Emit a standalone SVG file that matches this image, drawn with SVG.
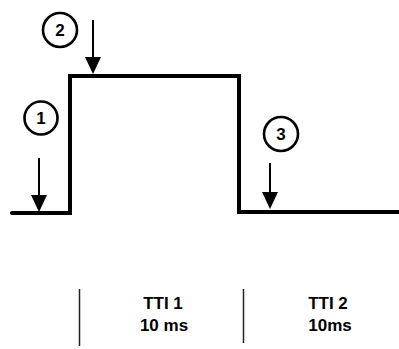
<svg xmlns="http://www.w3.org/2000/svg" width="399" height="349" viewBox="0 0 399 349">
<style>
.sig{fill:none;stroke:#000;stroke-width:4;stroke-linejoin:miter;stroke-linecap:round}
.circ{fill:#fff;stroke:#000;stroke-width:2.6}
.num{font-family:"Liberation Sans",Arial,sans-serif;font-weight:bold;font-size:17px;text-anchor:middle;fill:#000}
.arr{stroke:#000;stroke-width:2;fill:none}
.head{fill:#000}
.div{stroke:#222;stroke-width:1.5}
.lbl{font-family:"Liberation Sans",Arial,sans-serif;font-weight:bold;font-size:17px;text-anchor:middle;fill:#000}
</style>
<g id="signal">
<path class="sig" d="M12,213 H70 V76 H239 V212 H399"/>
</g>
<g id="connectors">
<line class="arr" x1="39" y1="158" x2="39" y2="196"/>
<path class="head" d="M31,195 L47,195 L39,212 z"/>
<line class="arr" x1="93" y1="20" x2="93" y2="58"/>
<path class="head" d="M85,57 L101,57 L93,74 z"/>
<line class="arr" x1="270" y1="163" x2="270" y2="193"/>
<path class="head" d="M262,192 L278,192 L270,209 z"/>
</g>
<g id="marker1">
<circle class="circ" cx="41" cy="118" r="16.5"/>
<text class="num" x="41" y="124">1</text>
</g>
<g id="marker2">
<circle class="circ" cx="60" cy="30" r="17"/>
<text class="num" x="60" y="36">2</text>
</g>
<g id="marker3">
<circle class="circ" cx="281" cy="134" r="17"/>
<text class="num" x="281" y="140">3</text>
</g>
<g id="dividers">
<line class="div" x1="79.5" y1="289" x2="79.5" y2="346"/>
<line class="div" x1="243.5" y1="289" x2="243.5" y2="343"/>
</g>
<g id="tti1">
<text class="lbl" x="163" y="309">TTI 1</text>
<text class="lbl" x="164" y="331">10 ms</text>
</g>
<g id="tti2">
<text class="lbl" x="328" y="309">TTI 2</text>
<text class="lbl" x="330" y="331">10ms</text>
</g>
</svg>
